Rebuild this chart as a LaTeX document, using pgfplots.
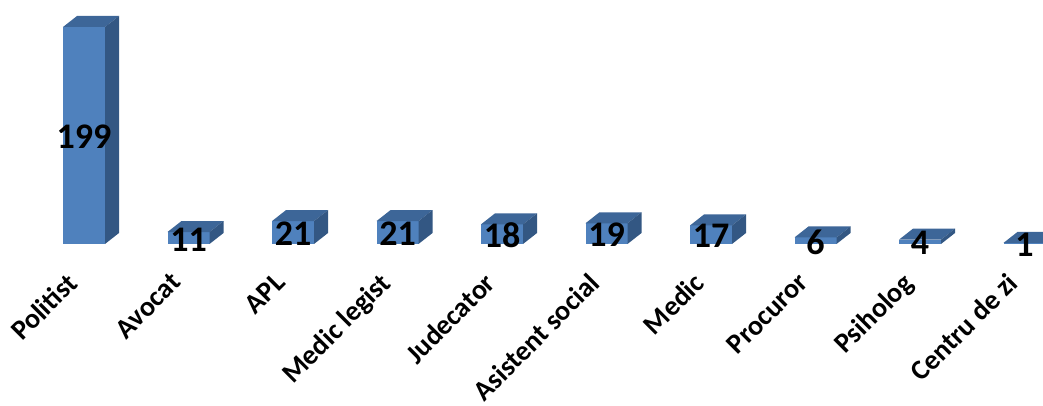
\documentclass[border=0pt]{standalone}
\usepackage{pgfplots}
\pgfplotsset{compat=1.18}
\usepackage{fontspec}
\setmainfont{Carlito}
\definecolor{barfront}{HTML}{4F81BD}
\definecolor{bartop}{HTML}{3D6698}
\definecolor{barside}{HTML}{335783}
\newcommand{\yu}{1.0905}
\pgfdeclareplotmark{bar3d}{%
  \pgfmathsetmacro\hh{\yval*\yu}%
  \pgfpathrectangle{\pgfpoint{-21pt}{-\hh pt}}{\pgfpoint{42pt}{\hh pt}}%
  \pgfsetfillcolor{barfront}\pgfusepath{fill}%
  \pgfpathmoveto{\pgfpoint{-21pt}{0pt}}%
  \pgfpathlineto{\pgfpoint{21pt}{0pt}}%
  \pgfpathlineto{\pgfpoint{35pt}{11pt}}%
  \pgfpathlineto{\pgfpoint{-7pt}{11pt}}%
  \pgfpathclose
  \pgfsetfillcolor{bartop}\pgfusepath{fill}%
  \pgfpathmoveto{\pgfpoint{21pt}{0pt}}%
  \pgfpathlineto{\pgfpoint{35pt}{11pt}}%
  \pgfpathlineto{\pgfpoint{35pt}{11pt-\hh pt}}%
  \pgfpathlineto{\pgfpoint{21pt}{-\hh pt}}%
  \pgfpathclose
  \pgfsetfillcolor{barside}\pgfusepath{fill}%
}
\begin{document}
\begin{tikzpicture}
\path[use as bounding box] (0,0) rectangle (1043pt,406pt);
\begin{axis}[
  at={(84pt,162pt)}, anchor=origin,
  x=104.5pt, y=\yu pt,
  xmin=-0.8, xmax=9.3, ymin=0, ymax=210,
  clip=false,
  axis line style={draw=none},
  major tick length=0pt,
  ytick=\empty,
  xtick={0,...,9},
  xticklabels={Politist, Avocat, APL, Medic legist, Judecator, Asistent social, Medic, Procuror, Psiholog, Centru de zi},
  x tick label style={xshift=-19pt, yshift=-27pt, rotate=45, anchor=north east, inner sep=0pt, font=\bfseries\fontsize{28}{30}\selectfont},
]
\addplot[
  scatter, only marks, mark=bar3d,
  scatter/use mapped color={draw=none, fill=none},
  visualization depends on={rawy \as \yval},
  nodes near coords={\bfseries\fontsize{36}{40}\selectfont\pgfmathprintnumber[assume math mode=true, fixed, precision=0]{\yval}},
  every node near coord/.style={anchor=center, inner sep=0pt, yshift={-(0.5*\yu*\yval+1.5)*1pt}, text=black},
] coordinates {
  (0,199) (1,11) (2,21) (3,21) (4,18) (5,19) (6,17) (7,6) (8,4) (9,1)
};
\end{axis}
\end{tikzpicture}
\end{document}
